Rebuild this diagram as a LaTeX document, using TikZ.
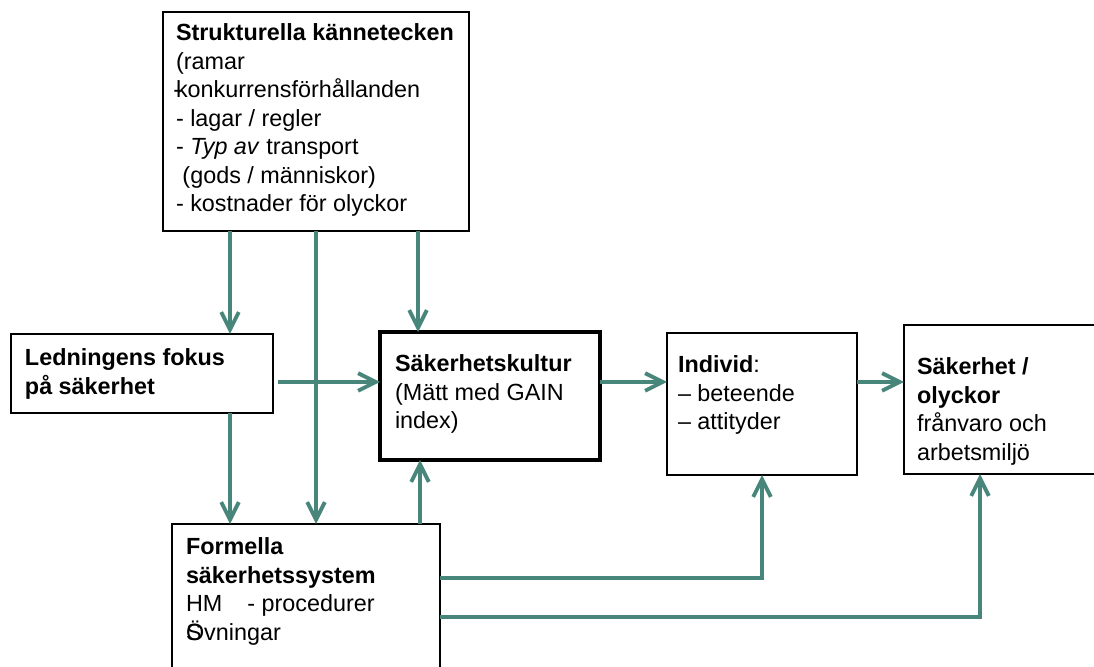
\documentclass[tikz,border=0pt]{standalone}
\usepackage{fontspec}
\setmainfont{Liberation Sans}
\usetikzlibrary{arrows.meta,positioning}
\definecolor{flowteal}{RGB}{72,134,124}

\begin{document}
\begin{tikzpicture}[
    box/.style={draw, line width=1.1pt, inner sep=0pt, outer sep=0pt},
    txt/.style={align=left, inner sep=0pt, outer sep=0pt, anchor=north west},
    flow/.style={draw=flowteal, line width=2.2pt, -{Straight Barb[length=10pt,width=10pt]}},
    font=\fontsize{13.3}{16.2}\selectfont
]
    \useasboundingbox (0,0) rectangle (21.88,13.34);

    % Boxes
    \node[box, minimum width=6.12cm, minimum height=4.38cm] (top) at (6.32,10.91) {};
    \node[box, minimum width=5.24cm, minimum height=1.58cm] (lead) at (2.84,5.87) {};
    \node[box, line width=2pt, minimum width=4.4cm, minimum height=2.56cm] (cult) at (9.80,5.42) {};
    \node[box, minimum width=3.8cm, minimum height=2.84cm] (indiv) at (15.24,5.26) {};
    \node[box, minimum width=3.86cm, minimum height=2.98cm] (safe) at (20.01,5.35) {};
    \node[box, minimum width=5.36cm, minimum height=3.12cm] (form) at (6.12,1.30) {};

    % Texts in the boxes
    \node[txt, below right=0.24cm and 0.26cm of top.north west] (topT)
        {\textbf{Strukturella kännetecken}\\(ramar\\\rlap{\kern-1.5pt-}konkurrensförhållanden\\- lagar / regler\\- \textit{Typ av} transport\\\ (gods / människor)\\- kostnader för olyckor};
    \node[txt, below right=0.30cm and 0.28cm of lead.north west] (leadT)
        {\textbf{Ledningens fokus}\\\textbf{på säkerhet}};
    \node[txt, below right=0.46cm and 0.30cm of cult.north west] (cultT)
        {\textbf{Säkerhetskultur}\\(Mätt med GAIN\\index)};
    \node[txt, below right=0.46cm and 0.22cm of indiv.north west] (indivT)
        {\textbf{Individ}:\\– beteende\\– attityder};
    \node[txt, below right=0.66cm and 0.26cm of safe.north west] (safeT)
        {\textbf{Säkerhet /}\\\textbf{olyckor}\\frånvaro och\\arbetsmiljö};
    \node[txt, below right=0.28cm and 0.28cm of form.north west] (formT)
        {\textbf{Formella}\\\textbf{säkerhetssystem}\\HM\hspace{0.5cm}- procedurer\\\rlap{S}Övningar};

    % Where the connectors run
    \coordinate (xl) at (4.60,0);
    \coordinate (xc) at (8.36,0);
    \coordinate (xu) at (8.40,0);
    \coordinate (xs) at (19.60,0);
    \coordinate (yr) at (0,5.70);
    \coordinate (y1) at (0,1.78);
    \coordinate (y2) at (0,1.00);

    % Connectors
    \draw[flow] (top.south -| xl) -- (lead.north -| xl);
    \draw[flow] (top.south) -- (form.north -| top.south);
    \draw[flow] (top.south -| xc) -- (cult.north -| xc);
    \draw[flow] (lead.south -| xl) -- (form.north -| xl);
    \draw[flow] (form.north -| xu) -- (cult.south -| xu);
    \draw[flow] ([xshift=3pt]lead.east |- yr) -- (cult.west |- yr);
    \draw[flow] (cult.east |- yr) -- (indiv.west |- yr);
    \draw[flow] (indiv.east |- yr) -- (safe.west |- yr);
    \draw[flow] (form.east |- y1) -| (indiv.south);
    \draw[flow] (form.east |- y2) -| (xs |- safe.south);
\end{tikzpicture}
\end{document}
